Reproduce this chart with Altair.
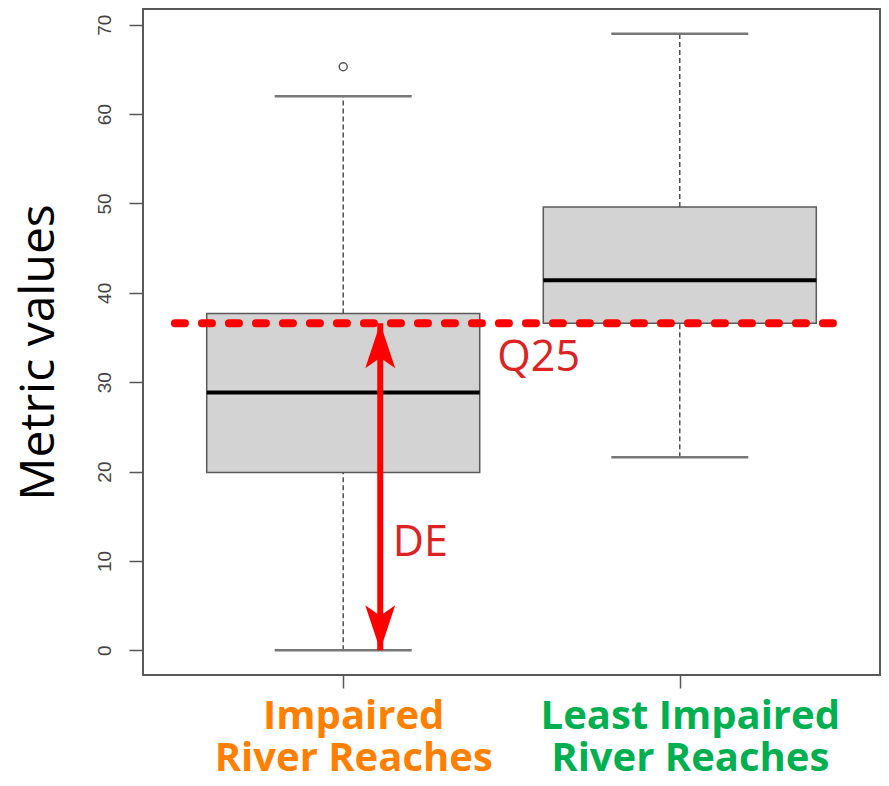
import json
import altair as alt
import pandas as pd

# ---- data ----
groups = ["Impaired River Reaches", "Least Impaired River Reaches"]
label_lines = [["Impaired", "River Reaches"], ["Least Impaired", "River Reaches"]]
label_colors = ["#FF8000", "#00B050"]
whisker_low = [0.0, 21.6]
q1 = [19.9, 36.6]
median = [28.85, 41.4]
q3 = [37.7, 49.6]
whisker_high = [62.0, 69.0]
outlier_group = ["Impaired River Reaches"]
outlier_value = [65.3]
y_ticks = [0, 10, 20, 30, 40, 50, 60, 70]

# annotations
q25_value = q1[1]          # 25th percentile of least impaired reaches
de_x = 1.11                # x position of the DE arrow (in group units)
annot_text = ["Q25", "DE"]
annot_x = [1.458, 1.147]
annot_y = [31.2, 10.5]

# ---- tables ----
pos = [i + 1 for i in range(len(groups))]
box = pd.DataFrame({
    "group": groups, "pos": pos, "lo": whisker_low, "q1": q1,
    "med": median, "q3": q3, "hi": whisker_high,
})
out = pd.DataFrame({
    "pos": [pos[groups.index(g)] for g in outlier_group],
    "value": outlier_value,
})
q25 = pd.DataFrame({"x": [min(pos) - 0.5], "x2": [max(pos) + 0.5], "y": [q25_value]})
arrow = pd.DataFrame({"x": [de_x], "y": [whisker_low[0]], "y2": [q25_value]})
heads = pd.DataFrame({
    "x": [de_x, de_x],
    "y": [whisker_low[0], q25_value],
    "shape": ["M0,0L1,-3L0,-2.3L-1,-3Z", "M0,0L1,3L0,2.3L-1,3Z"],
})
annots = pd.DataFrame({"text": annot_text, "x": annot_x, "y": annot_y})

# R-style 4% axis extension
xlo, xhi = min(pos) - 0.5, max(pos) + 0.5
xext = 0.04 * (xhi - xlo)
ylo, yhi = min(whisker_low), max(whisker_high + outlier_value)
yext = 0.04 * (yhi - ylo)
xscale = alt.Scale(domain=[xlo - xext, xhi + xext], nice=False, zero=False)
yscale = alt.Scale(domain=[ylo - yext, yhi + yext], nice=False, zero=False)

label_expr = json.dumps(label_lines) + "[datum.value - 1]"

xaxis = alt.Axis(
    values=pos, title=None, labelExpr=label_expr,
    labelColor={"condition": {"test": f"datum.value == {pos[0]}", "value": label_colors[0]},
                "value": label_colors[1]},
    labelFont="Open Sans", labelFontWeight="bold", labelFontSize=40,
    labelLineHeight=42, labelBaseline="top", labelPadding=8, labelOffset=10,
    labelLimit=500, labelOverlap=False, labelFlush=False,
    tickSize=13, tickColor="#555555", tickWidth=1.5, domain=False, grid=False,
)
yaxis = alt.Axis(
    values=y_ticks, title="Metric values", titleFont="Open Sans", titleFontSize=48,
    titleFontWeight="normal", titleColor="black", titleX=-90, titleY=343,
    titleAlign="center", titleBaseline="alphabetic", titleAngle=270,
    labelAngle=-90, labelAlign="center", labelBaseline="alphabetic", labelPadding=19,
    labelFont="Liberation Sans", labelFontSize=19, labelColor="#444444",
    tickSize=14, tickColor="#555555", tickWidth=1.5, domain=False, grid=False,
)

X = alt.X("pos:Q", scale=xscale, axis=xaxis)

boxes = alt.Chart(box).mark_bar(
    size=273, color="#D3D3D3", stroke="#5a5a5a", strokeWidth=1.5
).encode(x=X, y=alt.Y("q1:Q", scale=yscale, axis=yaxis), y2="q3:Q")

whisk_up = alt.Chart(box).mark_rule(strokeDash=[5, 3], color="#444444", strokeWidth=1.4).encode(
    x="pos:Q", y="q3:Q", y2="hi:Q")
whisk_dn = alt.Chart(box).mark_rule(strokeDash=[5, 3], color="#444444", strokeWidth=1.4).encode(
    x="pos:Q", y="lo:Q", y2="q1:Q")
cap_up = alt.Chart(box).mark_tick(orient="horizontal", size=137, thickness=2.5, color="#777777", opacity=1).encode(
    x="pos:Q", y="hi:Q")
cap_dn = alt.Chart(box).mark_tick(orient="horizontal", size=137, thickness=2.5, color="#777777", opacity=1).encode(
    x="pos:Q", y="lo:Q")
med = alt.Chart(box).mark_tick(orient="horizontal", size=273, thickness=4, color="black", opacity=1).encode(
    x="pos:Q", y="med:Q")
outl = alt.Chart(out).mark_point(shape="circle", size=64, filled=False, stroke="#555555",
                                 strokeWidth=1.5, opacity=1).encode(x="pos:Q", y="value:Q")

q25_line = alt.Chart(q25).mark_rule(color="#FF0000", strokeWidth=8, strokeDash=[10, 17],
                                    strokeCap="round").encode(x="x:Q", x2="x2:Q", y="y:Q")
shaft = alt.Chart(arrow).mark_rule(color="#FF0000", strokeWidth=6).encode(x="x:Q", y="y:Q", y2="y2:Q")
arrowheads = alt.Chart(heads).mark_point(filled=True, size=900, color="#FF0000", opacity=1,
                                         strokeWidth=0).encode(
    x="x:Q", y="y:Q", shape=alt.Shape("shape:N", scale=None, legend=None))
texts = alt.Chart(annots).mark_text(align="left", baseline="alphabetic", font="Open Sans",
                                    fontSize=43, color="#DD2222").encode(
    x="x:Q", y="y:Q", text="text:N")

chart = alt.layer(
    boxes, whisk_up, whisk_dn, cap_up, cap_dn, med, outl, q25_line, shaft, arrowheads, texts
).properties(
    width=737, height=666,
    autosize=alt.AutoSizeParams(type="none"),
    padding={"left": 135, "top": 1, "right": 1, "bottom": 97},
    background="white",
).configure_view(stroke="#5a5a5a", strokeWidth=2)

chart.save("out.html", embed_options={"renderer": "svg", "actions": False})
